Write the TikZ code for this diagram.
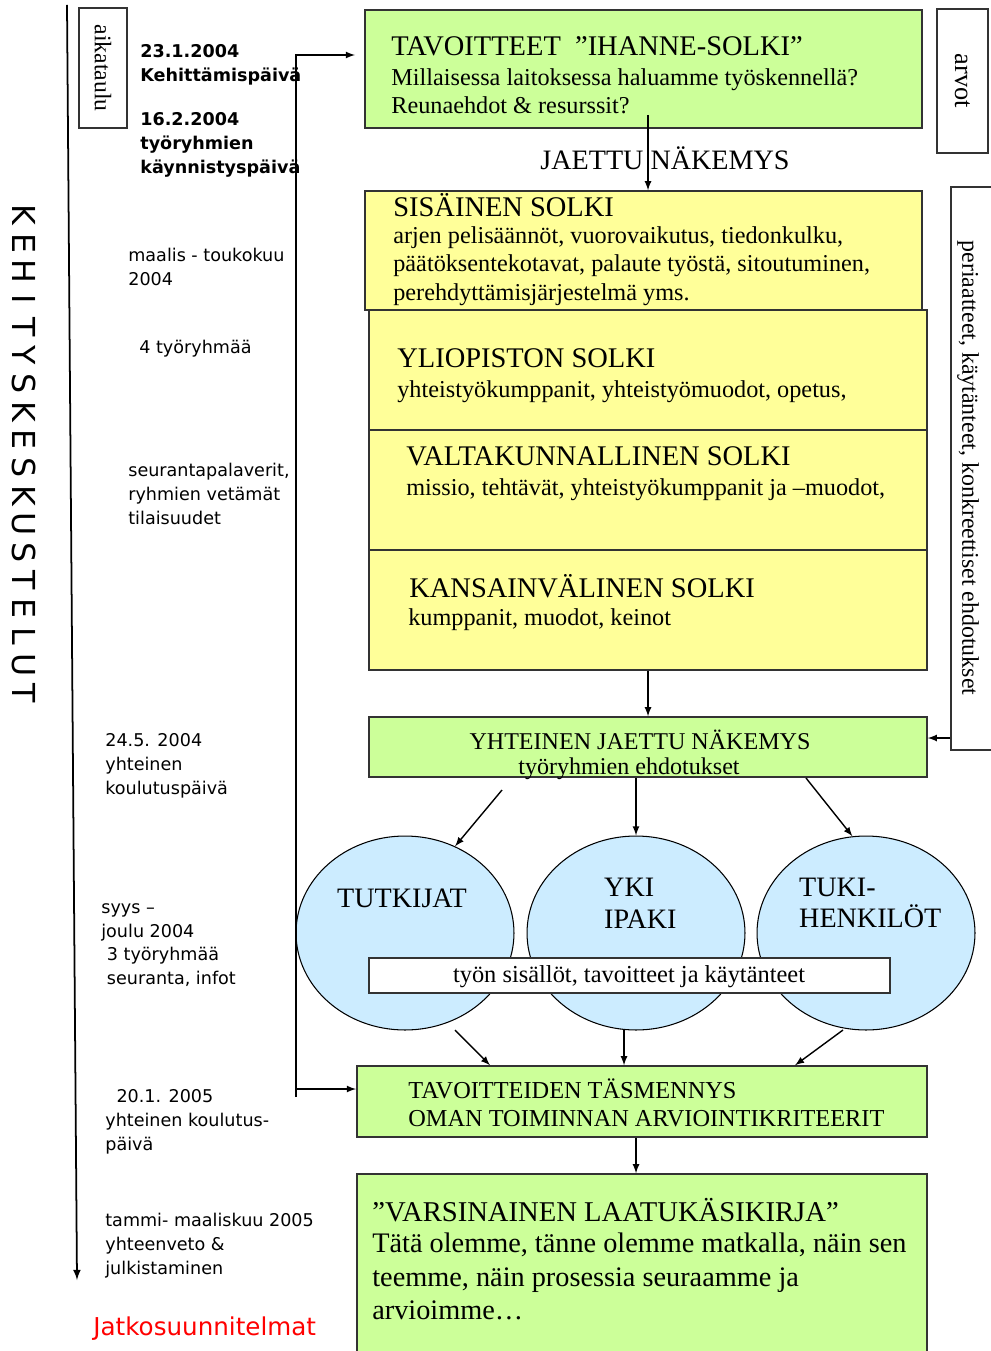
\documentclass[tikz,border=0pt]{standalone}
\usepackage{fontspec}
\setmainfont{Liberation Serif}
\newfontfamily\verd{DejaVu Sans}
\usetikzlibrary{arrows,shapes.geometric,fit}
\definecolor{lgreen}{HTML}{CCFF99}
\definecolor{lyellow}{HTML}{FFFF99}
\definecolor{lblue}{HTML}{CCECFF}

\begin{document}
\begin{tikzpicture}[x=0.02cm,y=-0.02cm,
    box/.style={draw=black!80,line width=0.8pt,inner sep=0pt},
    head/.style={font=\fontsize{16.2}{19}\selectfont,anchor=north west,inner sep=0pt},
    body/.style={font=\fontsize{13.8}{16.4}\selectfont,anchor=north west,align=left,inner sep=0pt},
    aika/.style={font=\verd\fontsize{10}{13.6}\selectfont,anchor=north west,align=left,inner sep=0pt},
    aikab/.style={aika,font=\verd\bfseries\fontsize{10}{13.6}\selectfont},
    ball/.style={ellipse,draw,fill=lblue,line width=0.6pt,minimum width=4.36cm,minimum height=3.88cm},
    nuoli/.style={-latex,line width=0.8pt}]
  \useasboundingbox[fill=white] (0,0) rectangle (990,1351);

  % aikajana vasemmalla
  \coordinate (t0) at (67,5);
  \coordinate (t1) at (77,1280);
  \draw[nuoli,line width=1pt] (t0) -- (t1);
  \foreach \c [count=\i] in {K,E,H,I,T,Y,S,K,E,S,K,U,S,T,E,L,U,T}
    \node[rotate=-90,font=\verd\fontsize{18}{20}\selectfont] (k\i) at (24,187+\i*28.1) {\c};
  \node[box,fit={(79,8) (127,128)}] (aikbox) {};
  \node[rotate=-90,font=\fontsize{13.5}{16}\selectfont] (aikt) at (aikbox.center) {aikataulu};

  \node[aikab] (d1) at (140,44) {23.1.2004\\Kehittämispäivä};
  \node[aikab] (d2) at (140,112) {16.2.2004\\työryhmien\\käynnistyspäivä};
  \node[aika] (d3) at (128,248) {maalis - toukokuu\\2004};
  \node[aika] (d4) at (139,340) {4 työryhmää};
  \node[aika] (d5) at (128,463) {seurantapalaverit,\\ryhmien vetämät\\tilaisuudet};
  \node[aika] (d6) at (105,733) {24.5. 2004\\yhteinen\\koulutuspäivä};
  \node[aika] (d7) at (101,903) {syys –\\joulu 2004\\\ 3 työryhmää\\\ seuranta, infot};
  \node[aika] (d8) at (105,1089) {\ \ 20.1. 2005\\yhteinen koulutus-\\päivä};
  \node[aika] (d9) at (105,1213) {tammi- maaliskuu 2005\\yhteenveto \&\\julkistaminen};
  \node[anchor=west,inner sep=0pt,text=red,font=\verd\fontsize{14}{16}\selectfont] (jatko) at (93,1329) {Jatkosuunnitelmat};

  % laatikot
  \node[box,fill=lgreen,fit={(365,10) (922,128)}] (tav) {};
  \node[head] (tavh) at (391,36) {TAVOITTEET\ \ ”IHANNE-SOLKI”};
  \node[body] (tavb) at (391,68) {Millaisessa laitoksessa haluamme työskennellä?\\Reunaehdot \& resurssit?};

  \node[box,fit={(937,9) (988,153)}] (arvot) {};
  \node[rotate=-90,font=\fontsize{15}{17}\selectfont] (arvott) at (arvot.center) {arvot};

  \node[font=\fontsize{16}{18}\selectfont] (jn) at (665,158) {JAETTU NÄKEMYS};

  \node[box,fill=lyellow,fit={(365,191) (922,310)}] (sis) {};
  \node[head] (sish) at (393,193) {SISÄINEN SOLKI};
  \node[body] (sisb) at (393,226) {arjen pelisäännöt, vuorovaikutus, tiedonkulku,\\päätöksentekotavat, palaute työstä, sitoutuminen,\\perehdyttämisjärjestelmä yms.};

  \node[box,fill=lyellow,fit={(369,310) (927,430)}] (ylio) {};
  \node[head] (glioh) at (397,348) {YLIOPISTON SOLKI};
  \node[body] (yliob) at (397,380) {yhteistyökumppanit, yhteistyömuodot, opetus,};

  \node[box,fill=lyellow,fit={(369,430) (927,550)}] (valt) {};
  \node[head] (valth) at (406,446) {VALTAKUNNALLINEN SOLKI};
  \node[body] (valtb) at (406,478) {missio, tehtävät, yhteistyökumppanit ja –muodot,};

  \node[box,fill=lyellow,fit={(369,550) (927,670)}] (kans) {};
  \node[head] (kansh) at (409,574) {KANSAINVÄLINEN SOLKI};
  \node[body] (kansb) at (408,608) {kumppanit, muodot, keinot};

  \node[box,fit={(951,187) (995,750)}] (peri) {};
  \node[rotate=-90,font=\fontsize{13.6}{15}\selectfont] (perit) at (968,468) {periaatteet, käytänteet, konkreettiset ehdotukset};

  \node[box,fill=lgreen,fit={(369,717) (927,777)}] (yht) {};
  \node[font=\fontsize{13.7}{16}\selectfont] (yhtt) at (640,740) {YHTEINEN JAETTU NÄKEMYS};
  \node[font=\fontsize{13.7}{16}\selectfont] (yhts) at (629,769) {työryhmien ehdotukset};

  \node[ball] (tut) at (405,933) {};
  \node[ball] (yki) at (636,933) {};
  \node[ball] (tuki) at (866,933) {};
  \node[font=\fontsize{16}{18}\selectfont] (tutt) at (402,898) {TUTKIJAT};
  \node[anchor=west,align=left,font=\fontsize{16}{18}\selectfont] (ykit) at (598,903) {YKI\\IPAKI};
  \node[anchor=west,align=left,font=\fontsize{16}{18}\selectfont] (tukit) at (793,903) {TUKI-\\HENKILÖT};

  \node[box,fill=white,fit={(369,958) (890,993)}] (sisal) {};
  \node[font=\fontsize{13.9}{15}\selectfont] (sisalt) at (629,977) {työn sisällöt, tavoitteet ja käytänteet};

  \node[box,fill=lgreen,fit={(357,1066) (927,1137)}] (tas) {};
  \node[anchor=west,align=left,inner sep=0pt,font=\fontsize{13.85}{15.9}\selectfont] (tast) at (408,1103) {TAVOITTEIDEN TÄSMENNYS\\OMAN TOIMINNAN ARVIOINTIKRITEERIT};

  \node[box,fill=lgreen,fit={(357,1174) (927,1365)}] (lat) {};
  \node[anchor=west,inner sep=0pt,font=\fontsize{16.3}{19}\selectfont] (lath) at (372,1210) {”VARSINAINEN LAATUKÄSIKIRJA”};
  \node[anchor=north west,align=left,inner sep=0pt,font=\fontsize{16.1}{19}\selectfont] (latb) at (372,1233) {Tätä olemme, tänne olemme matkalla, näin sen\\teemme, näin prosessia seuraamme ja\\arvioimme…};

  % nuolet
  \coordinate (jt) at (648,115);
  \draw[nuoli] (jt) -- (jt |- sis.north);
  \draw[nuoli] (kans.south) -- (yht.north);
  \draw[nuoli] (peri.west |- 0,738) -- (yht.east |- 0,738);

  \coordinate (y1) at (502,790);
  \coordinate (y3) at (806,778);
  \draw[nuoli] (y1) -- (tut.60);
  \draw[nuoli] (yht.south -| yki.north) -- (yki.north);
  \draw[nuoli] (y3) -- (tuki.98);

  \coordinate (b1) at (455,1030);
  \coordinate (b2) at (624,1030);
  \coordinate (b3) at (843,1030);
  \draw[nuoli] (b1) -- (tas.north -| 490,0);
  \draw[nuoli] (b2) -- (tas.north -| b2);
  \draw[nuoli] (b3) -- (tas.north -| 795,0);
  \draw[nuoli] (tas.south -| 636,0) -- (lat.north -| 636,0);

  \coordinate (fb) at (296,1097);
  \coordinate (ft) at (355,55);
  \coordinate (fm) at (356,1089);
  \draw[nuoli] (fb) |- (ft);
  \draw[nuoli] (fb |- fm) -- (fm);
\end{tikzpicture}
\end{document}
